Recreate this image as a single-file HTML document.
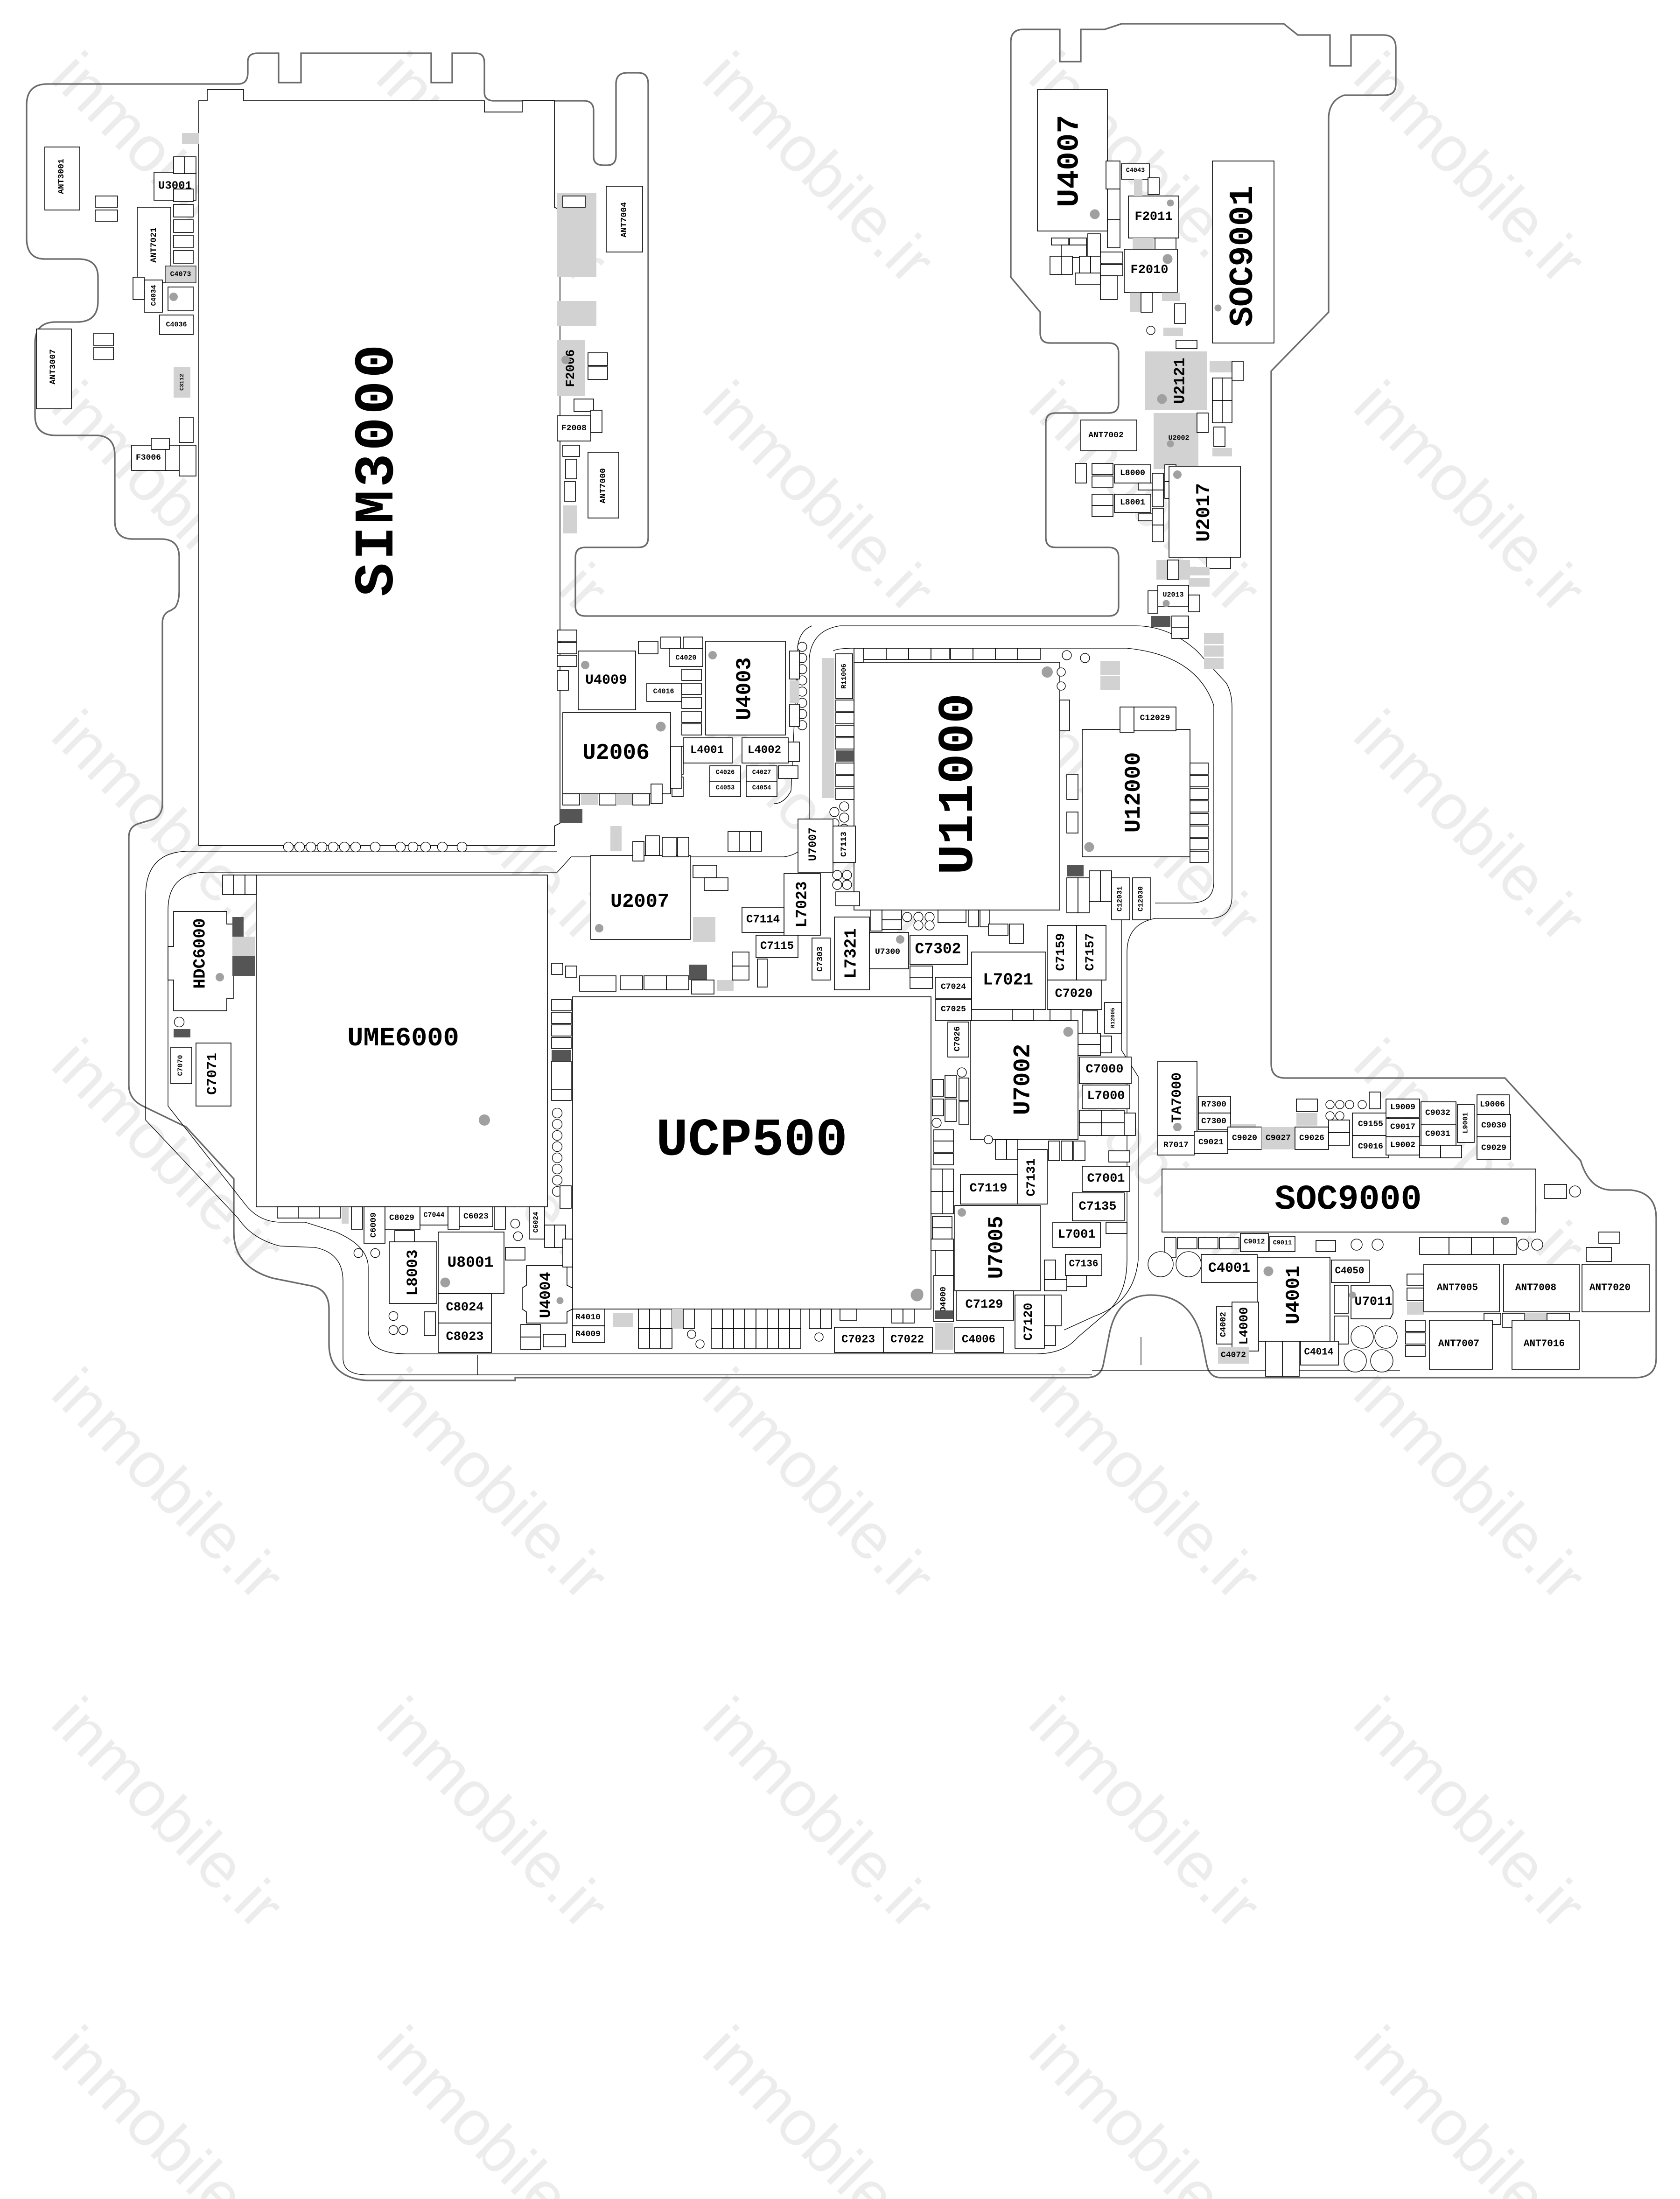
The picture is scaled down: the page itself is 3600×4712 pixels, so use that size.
<!DOCTYPE html>
<html><head><meta charset="utf-8">
<style>
html,body{margin:0;padding:0;background:#fff}
svg{display:block}
.wm{font-family:"Liberation Sans",sans-serif;font-size:46px;fill:#ececec;text-anchor:middle;dominant-baseline:central}
.b{fill:#fff;stroke:#000;stroke-width:0.55}
.g{fill:#d2d2d2;stroke:none}
.gb{fill:#d2d2d2;stroke:#000;stroke-width:0.4}
.d{fill:#555;stroke:none}
.ol{fill:none;stroke:#6a6a6a;stroke-width:1.1}
.tr{fill:none;stroke:#000;stroke-width:0.45}
.p{fill:#a0a0a0}
.c{fill:#fff;stroke:#000;stroke-width:0.45}
text.t{font-family:"Liberation Mono","DejaVu Sans Mono",monospace;font-weight:bold;text-anchor:middle;dominant-baseline:central;fill:#000}
</style></head><body>
<svg width="3600" height="4712" viewBox="0 0 1200 1570.667" xmlns="http://www.w3.org/2000/svg">
<rect x="0" y="0" width="1200" height="1571" fill="#fff"/>
<!-- watermarks -->
<g class="wm">
<text transform="translate(120 120) rotate(45)">inmobile.ir</text>
<text transform="translate(352 120) rotate(45)">inmobile.ir</text>
<text transform="translate(585 120) rotate(45)">inmobile.ir</text>
<text transform="translate(818 120) rotate(45)">inmobile.ir</text>
<text transform="translate(1050 120) rotate(45)">inmobile.ir</text>
<text transform="translate(120 355) rotate(45)">inmobile.ir</text>
<text transform="translate(352 355) rotate(45)">inmobile.ir</text>
<text transform="translate(585 355) rotate(45)">inmobile.ir</text>
<text transform="translate(818 355) rotate(45)">inmobile.ir</text>
<text transform="translate(1050 355) rotate(45)">inmobile.ir</text>
<text transform="translate(120 590) rotate(45)">inmobile.ir</text>
<text transform="translate(352 590) rotate(45)">inmobile.ir</text>
<text transform="translate(585 590) rotate(45)">inmobile.ir</text>
<text transform="translate(818 590) rotate(45)">inmobile.ir</text>
<text transform="translate(1050 590) rotate(45)">inmobile.ir</text>
<text transform="translate(120 825) rotate(45)">inmobile.ir</text>
<text transform="translate(352 825) rotate(45)">inmobile.ir</text>
<text transform="translate(585 825) rotate(45)">inmobile.ir</text>
<text transform="translate(818 825) rotate(45)">inmobile.ir</text>
<text transform="translate(1050 825) rotate(45)">inmobile.ir</text>
<text transform="translate(120 1060) rotate(45)">inmobile.ir</text>
<text transform="translate(352 1060) rotate(45)">inmobile.ir</text>
<text transform="translate(585 1060) rotate(45)">inmobile.ir</text>
<text transform="translate(818 1060) rotate(45)">inmobile.ir</text>
<text transform="translate(1050 1060) rotate(45)">inmobile.ir</text>
<text transform="translate(120 1295) rotate(45)">inmobile.ir</text>
<text transform="translate(352 1295) rotate(45)">inmobile.ir</text>
<text transform="translate(585 1295) rotate(45)">inmobile.ir</text>
<text transform="translate(818 1295) rotate(45)">inmobile.ir</text>
<text transform="translate(1050 1295) rotate(45)">inmobile.ir</text>
<text transform="translate(120 1530) rotate(45)">inmobile.ir</text>
<text transform="translate(352 1530) rotate(45)">inmobile.ir</text>
<text transform="translate(585 1530) rotate(45)">inmobile.ir</text>
<text transform="translate(818 1530) rotate(45)">inmobile.ir</text>
<text transform="translate(1050 1530) rotate(45)">inmobile.ir</text>
</g>

<!-- board outline -->
<path class="ol" d="M19,75 Q19,60 34,60 L170,60 Q177,60 177,52 L177,44 Q177,38 184,38 L199,38 L199,59 L215,59 L215,38 L308,38 L308,59 L323,59 L323,38 L340,38 Q346,38 346,45 L346,66 Q346,72 353,72 L417,72 Q424,72 424,79 L424,112 Q424,118 431,118 L434,118 Q440,118 440,111 L440,60 Q440,52 448,52 L456,52 Q463,52 463,60 L463,384 Q463,391 456,391 L418,391 Q411,391 411,398 L411,433 Q411,440 418,440 L792,440 Q799,440 799,433 L799,398 Q799,391 792,391 L754,391 Q747,391 747,384 L747,302 Q747,295 754,295 L792,295 Q799,295 799,288 L799,252 Q799,245 792,245 L750,245 Q743,245 743,238 L743,223 L722,198 L722,30 Q722,21 731,21 L757,21 L757,44 L772,44 L772,21 L789,21 L801,17 L917,17 L927,25 L950,25 L950,47 L965,47 L965,25 L988,25 Q997,25 997,34 L997,60 Q997,68 989,68 L960,68 Q949,72 949,85 L949,223 L908,265 L908,760 Q908,770 918,770 L1075,770 L1129,829 Q1135,849 1150,850 L1165,850 Q1183,852 1183,870 L1183,970 Q1183,984 1168,984 L872,984 Q864,984 862,975 L858,955 Q850,925 822,925 Q797,925 792,955 L788,975 Q786,984 776,984 L368,984 L368,986 L262,986 Q235,984 235,960 L235,935 Q235,920 220,918 L195,913 Q167,905 167,880 L167,842 L133,805 L102,790 Q92,785 92,775 L92,598 Q92,590 100,588 L110,585 Q116,582 116,574 L116,445 Q116,438 122,436 L125,434 Q128,430 128,422 L128,398 Q128,385 115,385 L95,385 Q82,385 82,372 L82,325 Q82,312 70,311 L40,311 Q25,311 25,297 L25,245 Q25,230 40,230 L55,230 Q70,230 70,215 L70,198 Q70,185 56,185 L32,185 Q19,185 19,170 Z"/>

<!-- inner traces -->
<path class="tr" d="M104,640 Q104,608 135,608 L398,608"/>
<path class="tr" d="M120,650 Q120,623 148,623 L398,623 L408,612 L560,612 Q575,610 578,595 L578,470 Q580,450 600,447 L811,447 Q835,447 855,465 L876,488 Q880,495 880,505 L880,640 Q880,655 865,656 L825,656 Q805,660 805,680 L805,900 Q805,925 790,938 L770,955 Q760,967 740,967 L290,967 Q263,967 263,950 L263,905 Q263,890 240,880 L218,873 L201,873 Q185,873 175,860 L120,790 Z" fill="none"/>
<path class="tr" d="M104,640 L104,800 L170,870 Q180,885 200,890 L225,891 Q245,895 245,915 L245,970 Q245,982 262,982 L780,982"/>
<path class="tr" d="M595,465 Q598,463 610,463 L805,463 Q855,468 867,504 L867,630 Q867,645 850,645 L825,645"/>
<path class="tr" d="M801,650 L801,750 L813,769 L813,900 Q810,930 782,940 L760,950"/>
<path class="tr" d="M553,574 Q560,574 565,565 L570,460 Q572,450 580,447"/>
<path class="tr" d="M341,968 L341,982"/>
<path class="tr" d="M815,955 L815,975 M780,979 L1000,979"/>

<!-- SIM3000 -->
<path class="b" d="M142,72 L142,604 L396,604 L396,590 L400,588 L400,150 L396,148 L396,72 L373,72 L373,80 L346,80 L346,72 L174,72 L174,64 L148,64 L148,72 Z"/>
<text class="t" transform="translate(270 335) rotate(-90)" font-size="40" letter-spacing="2">SIM3000</text>
<g>
<circle class="c" cx="206" cy="605" r="3.5"/><circle class="c" cx="214" cy="605" r="3.5"/><circle class="c" cx="222" cy="605" r="3.5"/><circle class="c" cx="230" cy="605" r="3.5"/><circle class="c" cx="238" cy="605" r="3.5"/><circle class="c" cx="246" cy="605" r="3.5"/><circle class="c" cx="254" cy="605" r="3.5"/><circle class="c" cx="268" cy="605" r="3.5"/><circle class="c" cx="286" cy="605" r="3.5"/><circle class="c" cx="295" cy="605" r="3.5"/><circle class="c" cx="304" cy="605" r="3.5"/><circle class="c" cx="316" cy="605" r="3.5"/><circle class="c" cx="330" cy="605" r="3.5"/>
</g>
<rect class="d" x="400" y="578" width="16" height="10"/>

<!-- UME6000 -->
<rect class="b" x="183" y="625" width="208" height="237"/>
<text class="t" x="288" y="742" font-size="19">UME6000</text>
<circle class="p" cx="346" cy="800" r="4"/>
<!-- UCP500 -->
<rect class="b" x="409" y="712" width="256" height="223"/>
<text class="t" x="537" y="815" font-size="38">UCP500</text>
<circle class="p" cx="655" cy="925" r="4.5"/>
<!-- U11000 -->
<rect class="b" x="610" y="473" width="147" height="177"/>
<text class="t" transform="translate(685 560) rotate(-90)" font-size="36">U11000</text>
<circle class="p" cx="748" cy="480" r="4"/>
<!-- U12000 -->
<rect class="b" x="773" y="521" width="77" height="91"/>
<text class="t" transform="translate(810 566) rotate(-90)" font-size="16">U12000</text>
<circle class="p" cx="778" cy="605" r="3.5"/>
<!-- SOC9001 -->
<rect class="b" x="866" y="115" width="44" height="130"/>
<text class="t" transform="translate(888 183) rotate(-90)" font-size="24">SOC9001</text>
<circle class="p" cx="870" cy="220" r="2.5"/>
<!-- U4007 -->
<rect class="b" x="741" y="64" width="50" height="101"/>
<text class="t" transform="translate(764 115) rotate(-90)" font-size="22">U4007</text>
<circle class="p" cx="782" cy="153" r="3.5"/>
<!-- SOC9000 -->
<rect class="b" x="830" y="835" width="267" height="45"/>
<text class="t" x="963" y="857" font-size="25">SOC9000</text>
<circle class="p" cx="1075" cy="872" r="3"/>

<!-- left region -->
<rect class="b" x="32" y="105" width="25" height="45"/><text class="t" transform="translate(44 126) rotate(-90)" font-size="6">ANT3001</text>
<rect class="b" x="26" y="235" width="25" height="57"/><text class="t" transform="translate(38 262) rotate(-90)" font-size="6">ANT3007</text>
<rect class="b" x="98" y="148" width="24" height="54"/><text class="t" transform="translate(110 175) rotate(-90)" font-size="6">ANT7021</text>
<rect class="b" x="110" y="123" width="30" height="20"/><text class="t" x="125" y="133" font-size="8">U3001</text>
<rect class="b" x="103" y="200" width="13" height="23"/><text class="t" transform="translate(110 211) rotate(-90)" font-size="5">C4034</text>
<rect class="gb" x="118" y="190" width="22" height="12"/><text class="t" x="129" y="196" font-size="5">C4073</text>
<rect class="b" x="114" y="225" width="24" height="14"/><text class="t" x="126" y="232" font-size="5">C4036</text>
<rect class="b" x="120" y="205" width="18" height="17"/><circle class="p" cx="124" cy="212" r="3"/>
<rect class="g" x="124" y="262" width="12" height="22"/><text class="t" transform="translate(130 273) rotate(-90)" font-size="4">C3112</text>
<rect class="b" x="94" y="318" width="25" height="18"/><text class="t" x="106" y="327" font-size="6">F3006</text>
<rect class="b" x="67" y="238" width="14" height="9"/><rect class="b" x="67" y="248" width="14" height="9"/>
<rect class="b" x="68" y="140" width="16" height="8"/><rect class="b" x="68" y="150" width="16" height="8"/>
<rect class="b" x="124" y="135" width="14" height="9"/><rect class="b" x="124" y="146" width="14" height="9"/><rect class="b" x="124" y="157" width="14" height="9"/><rect class="b" x="124" y="168" width="14" height="9"/><rect class="b" x="124" y="179" width="14" height="9"/>
<rect class="b" x="95" y="198" width="8" height="16"/>
<rect class="b" x="128" y="298" width="10" height="18"/><rect class="b" x="118" y="318" width="10" height="18"/><rect class="b" x="128" y="318" width="12" height="22"/><rect class="b" x="108" y="313" width="13" height="8"/>
<rect class="g" x="130" y="95" width="12" height="8"/>
<rect class="b" x="124" y="112" width="8" height="12"/><rect class="b" x="132" y="112" width="8" height="12"/>

<!-- SIM right column -->
<rect class="b" x="433" y="133" width="26" height="47"/><text class="t" transform="translate(446 157) rotate(-90)" font-size="6">ANT7004</text>
<rect class="b" x="420" y="323" width="22" height="47"/><text class="t" transform="translate(431 347) rotate(-90)" font-size="6">ANT7000</text>
<rect class="g" x="398" y="138" width="28" height="60"/>
<rect class="b" x="402" y="140" width="16" height="8"/>
<rect class="g" x="398" y="215" width="28" height="18"/>
<rect class="g" x="398" y="243" width="20" height="40"/><text class="t" transform="translate(408 263) rotate(-90)" font-size="9">F2006</text>
<circle class="p" cx="404" cy="257" r="3"/>
<rect class="b" x="420" y="252" width="14" height="9"/><rect class="b" x="420" y="262" width="14" height="9"/>
<rect class="b" x="410" y="285" width="14" height="9"/>
<rect class="b" x="398" y="297" width="24" height="18"/><text class="t" x="410" y="306" font-size="6">F2008</text>
<rect class="b" x="422" y="293" width="8" height="16"/>
<rect class="b" x="402" y="318" width="12" height="8"/><rect class="b" x="404" y="328" width="8" height="14"/>
<rect class="b" x="403" y="344" width="8" height="14"/><rect class="g" x="402" y="361" width="10" height="20"/>

<!-- U4009 / U2006 area -->
<rect class="b" x="413" y="465" width="41" height="42"/><text class="t" x="433" y="486" font-size="10">U4009</text>
<circle class="p" cx="418" cy="475" r="3"/>
<rect class="b" x="402" y="509" width="77" height="58"/><text class="t" x="440" y="538" font-size="16">U2006</text>
<circle class="p" cx="472" cy="519" r="3.5"/>
<rect class="b" x="504" y="458" width="57" height="67"/><text class="t" transform="translate(532 492) rotate(-90)" font-size="15">U4003</text>
<circle class="p" cx="509" cy="468" r="3"/>
<rect class="b" x="478" y="463" width="24" height="13"/><text class="t" x="490" y="470" font-size="5">C4020</text>
<rect class="b" x="462" y="488" width="25" height="13"/><text class="t" x="474" y="494" font-size="5">C4016</text>
<rect class="b" x="456" y="458" width="14" height="9"/><rect class="b" x="472" y="455" width="14" height="8"/><rect class="b" x="488" y="455" width="14" height="8"/>
<rect class="b" x="487" y="478" width="14" height="8"/><rect class="b" x="487" y="488" width="14" height="8"/><rect class="b" x="487" y="498" width="14" height="8"/><rect class="b" x="487" y="508" width="14" height="8"/><rect class="b" x="487" y="517" width="14" height="8"/>
<rect class="b" x="488" y="527" width="35" height="18"/><text class="t" x="505" y="536" font-size="8">L4001</text>
<rect class="b" x="530" y="527" width="33" height="18"/><text class="t" x="546" y="536" font-size="8">L4002</text>
<rect class="b" x="507" y="547" width="22" height="11"/><text class="t" x="518" y="552" font-size="4.5">C4026</text>
<rect class="b" x="507" y="558" width="22" height="11"/><text class="t" x="518" y="563" font-size="4.5">C4053</text>
<rect class="b" x="533" y="547" width="22" height="11"/><text class="t" x="544" y="552" font-size="4.5">C4027</text>
<rect class="b" x="533" y="558" width="22" height="11"/><text class="t" x="544" y="563" font-size="4.5">C4054</text>
<rect class="b" x="480" y="533" width="8" height="20"/><rect class="b" x="480" y="555" width="8" height="14"/><rect class="b" x="556" y="547" width="14" height="9"/><rect class="b" x="563" y="530" width="8" height="14"/>
<rect class="b" x="398" y="450" width="14" height="8"/><rect class="b" x="398" y="459" width="14" height="8"/><rect class="b" x="398" y="468" width="14" height="8"/><rect class="b" x="398" y="479" width="8" height="14"/>
<rect class="b" x="402" y="567" width="12" height="8"/><rect class="g" x="415" y="567" width="12" height="8"/><rect class="b" x="428" y="567" width="12" height="8"/><rect class="g" x="440" y="567" width="12" height="8"/><rect class="b" x="452" y="567" width="12" height="8"/><rect class="b" x="465" y="560" width="8" height="14"/>
<rect class="b" x="479" y="533" width="8" height="30"/>
<g><circle class="c" cx="573" cy="462" r="3.3"/><circle class="c" cx="573" cy="470" r="3.3"/><circle class="c" cx="573" cy="478" r="3.3"/><circle class="c" cx="573" cy="486" r="3.3"/><circle class="c" cx="573" cy="494" r="3.3"/><circle class="c" cx="573" cy="502" r="3.3"/><circle class="c" cx="573" cy="510" r="3.3"/><circle class="c" cx="573" cy="518" r="3.3"/></g>
<rect class="b" x="564" y="465" width="7" height="20"/><rect class="g" x="564" y="486" width="7" height="16"/><rect class="b" x="564" y="503" width="7" height="16"/>
<rect class="g" x="587" y="470" width="9" height="100"/>
<rect class="b" x="597" y="467" width="12" height="32"/><text class="t" transform="translate(603 483) rotate(-90)" font-size="5">R11006</text>
<rect class="b" x="597" y="500" width="13" height="8"/><rect class="b" x="597" y="509" width="13" height="8"/><rect class="b" x="597" y="518" width="13" height="8"/><rect class="b" x="597" y="527" width="13" height="8"/><rect class="d" x="597" y="536" width="13" height="8"/><rect class="b" x="597" y="545" width="13" height="8"/><rect class="b" x="597" y="554" width="13" height="8"/><rect class="b" x="597" y="563" width="13" height="8"/>
<g><circle class="c" cx="603" cy="576" r="3.3"/><circle class="c" cx="603" cy="584" r="3.3"/><circle class="c" cx="603" cy="592" r="3.3"/><circle class="c" cx="603" cy="600" r="3.3"/><circle class="c" cx="596" cy="580" r="3.3"/><circle class="c" cx="596" cy="588" r="3.3"/></g>
<rect class="b" x="610" y="463" width="7" height="10"/>
<rect class="b" x="617" y="463" width="16" height="8"/><rect class="b" x="633" y="463" width="16" height="8"/><rect class="b" x="649" y="463" width="16" height="8"/><rect class="b" x="665" y="463" width="13" height="8"/><rect class="b" x="679" y="463" width="16" height="8"/><rect class="b" x="695" y="463" width="16" height="8"/><rect class="b" x="711" y="463" width="16" height="8"/><rect class="b" x="727" y="463" width="16" height="8"/>
<circle class="c" cx="762" cy="468" r="3.3"/><circle class="c" cx="775" cy="470" r="3.3"/><circle class="c" cx="758" cy="480" r="3"/><circle class="c" cx="758" cy="490" r="3"/>
<rect class="g" x="786" y="472" width="14" height="10"/><rect class="g" x="786" y="483" width="14" height="10"/>
<rect class="b" x="757" y="500" width="7" height="22"/>
<rect class="b" x="800" y="505" width="10" height="18"/><rect class="b" x="810" y="505" width="30" height="17"/><text class="t" x="825" y="513" font-size="6">C12029</text>
<rect class="b" x="850" y="545" width="13" height="8"/><rect class="b" x="850" y="554" width="13" height="8"/><rect class="b" x="850" y="563" width="13" height="8"/><rect class="b" x="850" y="572" width="13" height="8"/><rect class="b" x="850" y="581" width="13" height="8"/><rect class="b" x="850" y="590" width="13" height="8"/><rect class="b" x="850" y="599" width="13" height="8"/><rect class="b" x="850" y="608" width="13" height="8"/>
<rect class="b" x="762" y="553" width="8" height="18"/><rect class="b" x="762" y="580" width="8" height="15"/>
<rect class="d" x="762" y="618" width="12" height="8"/>
<rect class="b" x="762" y="627" width="8" height="25"/><rect class="b" x="770" y="627" width="8" height="25"/><rect class="b" x="778" y="622" width="8" height="22"/><rect class="b" x="786" y="622" width="8" height="22"/><rect class="b" x="794" y="627" width="13" height="30"/><rect class="b" x="809" y="627" width="13" height="30"/><text class="t" transform="translate(800 642) rotate(-90)" font-size="5">C12031</text><text class="t" transform="translate(815 642) rotate(-90)" font-size="5">C12030</text>

<!-- U2007 area -->
<rect class="b" x="422" y="611" width="71" height="60"/><text class="t" x="457" y="644" font-size="14">U2007</text>
<circle class="p" cx="428" cy="663" r="3"/>
<rect class="b" x="452" y="601" width="8" height="14"/><rect class="b" x="461" y="597" width="10" height="14"/><rect class="b" x="473" y="598" width="10" height="14"/><rect class="b" x="484" y="598" width="8" height="14"/>
<rect class="g" x="436" y="590" width="8" height="18"/>
<rect class="b" x="495" y="618" width="17" height="9"/><rect class="b" x="503" y="627" width="17" height="9"/>
<rect class="g" x="495" y="655" width="16" height="9"/><rect class="g" x="495" y="664" width="16" height="9"/>
<rect class="b" x="520" y="594" width="8" height="14"/><rect class="b" x="528" y="594" width="8" height="14"/><rect class="b" x="536" y="594" width="8" height="14"/>
<rect class="b" x="570" y="585" width="25" height="38"/><text class="t" transform="translate(581 603) rotate(-90)" font-size="8">U7007</text>
<rect class="b" x="595" y="590" width="16" height="26"/><text class="t" transform="translate(603 603) rotate(-90)" font-size="6">C7113</text>
<rect class="b" x="560" y="624" width="26" height="44"/><text class="t" transform="translate(573 646) rotate(-90)" font-size="11">L7023</text>
<rect class="b" x="530" y="648" width="30" height="18"/><text class="t" x="545" y="657" font-size="8">C7114</text>
<rect class="b" x="540" y="668" width="30" height="16"/><text class="t" x="555" y="676" font-size="8">C7115</text>
<rect class="b" x="580" y="670" width="13" height="30"/><text class="t" transform="translate(586 685) rotate(-90)" font-size="6">C7303</text>
<rect class="b" x="596" y="655" width="25" height="52"/><text class="t" transform="translate(608 681) rotate(-90)" font-size="12">L7321</text>
<rect class="b" x="621" y="666" width="28" height="26"/><text class="t" x="634" y="680" font-size="6">U7300</text>
<circle class="p" cx="643" cy="671" r="3"/>
<rect class="b" x="650" y="668" width="41" height="21"/><text class="t" x="670" y="678" font-size="11">C7302</text>
<g><circle class="c" cx="598" cy="625" r="3.3"/><circle class="c" cx="605" cy="625" r="3.3"/><circle class="c" cx="598" cy="632" r="3.3"/><circle class="c" cx="605" cy="632" r="3.3"/></g>
<rect class="b" x="597" y="637" width="17" height="10"/>
<rect class="b" x="622" y="650" width="8" height="15"/><rect class="b" x="630" y="650" width="14" height="7"/><rect class="b" x="630" y="657" width="14" height="7"/>
<g><circle class="c" cx="648" cy="655" r="3.3"/><circle class="c" cx="656" cy="655" r="3.3"/><circle class="c" cx="664" cy="655" r="3.3"/><circle class="c" cx="656" cy="661" r="3.3"/><circle class="c" cx="664" cy="661" r="3.3"/></g>
<rect class="b" x="670" y="650" width="20" height="9"/><rect class="b" x="692" y="650" width="7" height="12"/><rect class="b" x="700" y="650" width="7" height="12"/>
<rect class="b" x="706" y="660" width="14" height="8"/><rect class="b" x="721" y="660" width="10" height="14"/>
<rect class="b" x="650" y="690" width="16" height="8"/><rect class="b" x="650" y="698" width="16" height="8"/>
<rect class="b" x="394" y="688" width="8" height="8"/><rect class="b" x="404" y="690" width="8" height="8"/>
<rect class="b" x="414" y="697" width="26" height="11"/><rect class="b" x="443" y="697" width="16" height="10"/><rect class="b" x="460" y="697" width="16" height="10"/><rect class="b" x="476" y="697" width="16" height="10"/><rect class="d" x="492" y="689" width="13" height="11"/><rect class="b" x="494" y="700" width="16" height="10"/><rect class="g" x="512" y="700" width="12" height="8"/>
<rect class="b" x="523" y="690" width="12" height="10"/><rect class="b" x="523" y="680" width="12" height="10"/><rect class="b" x="541" y="685" width="7" height="20"/>

<!-- UCP500 left column / HDC -->
<rect class="b" x="394" y="714" width="14" height="8"/><rect class="b" x="394" y="723" width="14" height="8"/><rect class="b" x="394" y="732" width="14" height="8"/><rect class="b" x="394" y="741" width="14" height="8"/><rect class="d" x="394" y="750" width="14" height="8"/><rect class="b" x="394" y="758" width="14" height="20"/><rect class="b" x="394" y="778" width="14" height="8"/>
<g><circle class="c" cx="398" cy="795" r="3.5"/><circle class="c" cx="398" cy="803" r="3.5"/><circle class="c" cx="398" cy="811" r="3.5"/><circle class="c" cx="398" cy="819" r="3.5"/><circle class="c" cx="398" cy="827" r="3.5"/><circle class="c" cx="398" cy="835" r="3.5"/><circle class="c" cx="398" cy="843" r="3.5"/><circle class="c" cx="398" cy="851" r="3.5"/></g>
<path class="b" d="M124,651 L124,676 L120,676 L120,700 L124,700 L124,722 L162,722 L162,713 L167,713 L167,660 L162,660 L162,651 Z"/>
<text class="t" transform="translate(143 681) rotate(-90)" font-size="12">HDC6000</text>
<circle class="p" cx="157" cy="698" r="3"/>
<rect class="b" x="159" y="625" width="8" height="14"/><rect class="b" x="167" y="625" width="8" height="14"/><rect class="b" x="175" y="625" width="8" height="14"/>
<rect class="d" x="166" y="655" width="8" height="14"/><rect class="g" x="166" y="669" width="8" height="14"/><rect class="g" x="174" y="669" width="8" height="14"/><rect class="d" x="166" y="683" width="8" height="14"/><rect class="d" x="174" y="683" width="8" height="14"/>
<circle class="c" cx="128" cy="730" r="3.5"/>
<rect class="d" x="124" y="735" width="12" height="6"/>
<rect class="b" x="122" y="748" width="15" height="26"/><text class="t" transform="translate(129 761) rotate(-90)" font-size="5">C7070</text>
<rect class="b" x="140" y="745" width="25" height="45"/><text class="t" transform="translate(152 767) rotate(-90)" font-size="10">C7071</text>

<!-- bottom left -->
<rect class="b" x="198" y="862" width="15" height="8"/><rect class="b" x="213" y="862" width="15" height="8"/><rect class="b" x="228" y="862" width="15" height="8"/><rect class="g" x="244" y="862" width="5" height="12"/><rect class="b" x="251" y="862" width="8" height="16"/>
<rect class="b" x="260" y="862" width="15" height="26"/><text class="t" transform="translate(267 875) rotate(-90)" font-size="6">C6009</text>
<rect class="b" x="275" y="862" width="25" height="16"/><text class="t" x="287" y="870" font-size="6">C8029</text>
<rect class="b" x="300" y="862" width="20" height="13"/><text class="t" x="310" y="868" font-size="5">C7044</text>
<rect class="b" x="320" y="862" width="8" height="16"/>
<rect class="b" x="328" y="862" width="24" height="14"/><text class="t" x="340" y="869" font-size="6">C6023</text>
<rect class="b" x="353" y="862" width="8" height="16"/>
<rect class="b" x="378" y="862" width="11" height="23"/><text class="t" transform="translate(383 873) rotate(-90)" font-size="5">C6024</text>
<rect class="b" x="282" y="879" width="14" height="9"/>
<circle class="c" cx="256" cy="895" r="3.2"/><circle class="c" cx="268" cy="895" r="3.2"/><circle class="c" cx="281" cy="940" r="3.2"/><circle class="c" cx="281" cy="950" r="3.2"/><circle class="c" cx="288" cy="950" r="3.2"/>
<circle class="c" cx="368" cy="874" r="3.2"/><circle class="c" cx="370" cy="883" r="3.2"/>
<rect class="b" x="278" y="887" width="34" height="44"/><text class="t" transform="translate(295 909) rotate(-90)" font-size="11">L8003</text>
<rect class="b" x="313" y="880" width="47" height="44"/><text class="t" x="336" y="902" font-size="11">U8001</text>
<circle class="p" cx="318" cy="916" r="3.5"/>
<rect class="b" x="361" y="891" width="14" height="9"/>
<rect class="b" x="303" y="937" width="8" height="17"/>
<rect class="b" x="313" y="924" width="38" height="21"/><text class="t" x="332" y="934" font-size="9">C8024</text>
<rect class="b" x="313" y="945" width="38" height="21"/><text class="t" x="332" y="955" font-size="9">C8023</text>
<path class="b" d="M376,904 L405,904 L405,918 L409,920 L409,935 L405,937 L405,945 L376,945 L376,937 L373,935 L373,920 L376,918 Z"/>
<text class="t" transform="translate(390 925) rotate(-90)" font-size="11">U4004</text>
<circle class="p" cx="400" cy="929" r="2.5"/>
<rect class="b" x="372" y="946" width="14" height="9"/><rect class="b" x="372" y="955" width="14" height="9"/><rect class="b" x="388" y="953" width="16" height="9"/>
<rect class="b" x="389" y="875" width="8" height="16"/><rect class="b" x="396" y="875" width="8" height="16"/><rect class="b" x="402" y="885" width="7" height="20"/><rect class="b" x="400" y="847" width="8" height="16"/>
<rect class="b" x="409" y="935" width="23" height="12"/><text class="t" x="420" y="941" font-size="6">R4010</text>
<rect class="b" x="409" y="947" width="23" height="12"/><text class="t" x="420" y="953" font-size="6">R4009</text>
<rect class="g" x="438" y="938" width="14" height="10"/>
<g>
<rect class="b" x="456" y="935" width="8" height="14"/><rect class="b" x="464" y="935" width="8" height="14"/><rect class="b" x="472" y="935" width="8" height="14"/><rect class="g" x="480" y="935" width="8" height="14"/><rect class="b" x="488" y="935" width="8" height="14"/>
<rect class="b" x="456" y="949" width="8" height="14"/><rect class="b" x="464" y="949" width="8" height="14"/><rect class="b" x="472" y="949" width="8" height="14"/>
<rect class="b" x="508" y="935" width="8" height="14"/><rect class="b" x="516" y="935" width="8" height="14"/><rect class="b" x="524" y="935" width="8" height="14"/><rect class="b" x="532" y="935" width="8" height="14"/><rect class="b" x="540" y="935" width="8" height="14"/><rect class="b" x="548" y="935" width="8" height="14"/><rect class="b" x="556" y="935" width="8" height="14"/><rect class="b" x="564" y="935" width="8" height="14"/><rect class="b" x="578" y="935" width="8" height="14"/><rect class="b" x="586" y="935" width="8" height="14"/>
<rect class="b" x="508" y="949" width="8" height="14"/><rect class="b" x="516" y="949" width="8" height="14"/><rect class="b" x="524" y="949" width="8" height="14"/><rect class="b" x="532" y="949" width="8" height="14"/><rect class="b" x="540" y="949" width="8" height="14"/><rect class="b" x="548" y="949" width="8" height="14"/><rect class="b" x="556" y="949" width="8" height="14"/><rect class="b" x="564" y="949" width="8" height="14"/>
<circle class="c" cx="494" cy="953" r="3"/><circle class="c" cx="500" cy="960" r="3"/><circle class="c" cx="585" cy="955" r="3"/>
<rect class="b" x="600" y="935" width="12" height="8"/><rect class="b" x="637" y="935" width="8" height="10"/><rect class="b" x="645" y="935" width="8" height="10"/>
</g>
<rect class="b" x="596" y="948" width="35" height="18"/><text class="t" x="613" y="957" font-size="8">C7023</text>
<rect class="b" x="631" y="948" width="35" height="18"/><text class="t" x="648" y="957" font-size="8">C7022</text>

<!-- U7002 area -->
<rect class="b" x="668" y="698" width="26" height="15"/><text class="t" x="681" y="705" font-size="6">C7024</text>
<rect class="b" x="668" y="714" width="26" height="15"/><text class="t" x="681" y="721" font-size="6">C7025</text>
<rect class="b" x="677" y="730" width="15" height="25"/><text class="t" transform="translate(684 742) rotate(-90)" font-size="6">C7026</text>
<rect class="b" x="694" y="680" width="53" height="41"/><text class="t" x="720" y="700" font-size="12">L7021</text>
<rect class="b" x="748" y="661" width="21" height="39"/><text class="t" transform="translate(758 680) rotate(-90)" font-size="9">C7159</text>
<rect class="b" x="769" y="661" width="21" height="39"/><text class="t" transform="translate(779 680) rotate(-90)" font-size="9">C7157</text>
<rect class="b" x="748" y="700" width="39" height="21"/><text class="t" x="767" y="710" font-size="9">C7020</text>
<rect class="b" x="723" y="721" width="15" height="8"/><rect class="b" x="750" y="721" width="15" height="8"/>
<rect class="b" x="773" y="722" width="11" height="18"/><rect class="b" x="789" y="716" width="12" height="22"/><text class="t" transform="translate(795 727) rotate(-90)" font-size="4">R12005</text>
<rect class="b" x="770" y="738" width="16" height="8"/><rect class="b" x="770" y="746" width="16" height="8"/><rect class="b" x="786" y="740" width="8" height="12"/>
<rect class="b" x="693" y="729" width="77" height="85"/><text class="t" transform="translate(731 771) rotate(-90)" font-size="17">U7002</text>
<circle class="p" cx="763" cy="737" r="3.5"/>
<rect class="b" x="771" y="755" width="37" height="19"/><text class="t" x="789" y="764" font-size="9">C7000</text>
<rect class="b" x="773" y="775" width="34" height="17"/><text class="t" x="790" y="783" font-size="9">L7000</text>
<rect class="b" x="771" y="793" width="16" height="9"/><rect class="b" x="787" y="793" width="16" height="9"/><rect class="b" x="771" y="802" width="16" height="9"/><rect class="b" x="787" y="802" width="16" height="9"/><rect class="b" x="803" y="795" width="8" height="16"/>
<rect class="b" x="792" y="822" width="15" height="8"/>
<rect class="b" x="666" y="771" width="8" height="12"/><rect class="b" x="675" y="768" width="8" height="16"/><rect class="b" x="666" y="785" width="8" height="12"/><rect class="b" x="675" y="785" width="8" height="16"/><rect class="b" x="685" y="770" width="7" height="16"/><rect class="b" x="685" y="787" width="7" height="16"/><circle class="c" cx="687" cy="766" r="3.3"/><circle class="c" cx="669" cy="802" r="3.3"/>
<rect class="b" x="667" y="807" width="14" height="8"/><rect class="b" x="667" y="815" width="14" height="8"/><rect class="b" x="667" y="824" width="14" height="8"/>
<rect class="b" x="665" y="835" width="8" height="16"/><rect class="b" x="673" y="835" width="8" height="16"/><rect class="b" x="665" y="851" width="8" height="16"/><rect class="b" x="673" y="851" width="8" height="16"/>
<rect class="b" x="666" y="869" width="14" height="8"/><rect class="b" x="666" y="877" width="14" height="8"/><rect class="b" x="665" y="885" width="16" height="8"/>
<rect class="b" x="668" y="893" width="13" height="18"/>
<rect class="b" x="667" y="911" width="14" height="33"/><text class="t" transform="translate(674 928) rotate(-90)" font-size="6">D4000</text><rect class="d" x="668" y="936" width="13" height="6"/>
<rect class="g" x="668" y="945" width="13" height="19"/>
<circle class="p" cx="656" cy="924" r="3.5"/>
<circle class="c" cx="706" cy="814" r="3"/>
<rect class="b" x="711" y="814" width="8" height="14"/><rect class="b" x="719" y="814" width="8" height="14"/>
<rect class="b" x="749" y="815" width="8" height="14"/><rect class="b" x="758" y="815" width="8" height="14"/><rect class="b" x="767" y="815" width="8" height="14"/>
<rect class="b" x="686" y="839" width="41" height="21"/><text class="t" x="706" y="849" font-size="9">C7119</text>
<rect class="b" x="727" y="821" width="21" height="39"/><text class="t" transform="translate(737 841) rotate(-90)" font-size="9">C7131</text>
<rect class="b" x="773" y="833" width="34" height="18"/><text class="t" x="790" y="842" font-size="9">C7001</text>
<rect class="b" x="766" y="852" width="37" height="20"/><text class="t" x="784" y="862" font-size="9">C7135</text>
<rect class="b" x="752" y="873" width="34" height="18"/><text class="t" x="769" y="882" font-size="9">L7001</text>
<rect class="b" x="790" y="873" width="15" height="8"/>
<rect class="b" x="761" y="896" width="26" height="15"/><text class="t" x="774" y="903" font-size="7">C7136</text>
<rect class="b" x="762" y="911" width="14" height="8"/><rect class="b" x="746" y="900" width="8" height="14"/><rect class="b" x="746" y="914" width="16" height="8"/>
<rect class="b" x="682" y="861" width="61" height="61"/><text class="t" transform="translate(712 891) rotate(-90)" font-size="15">U7005</text>
<circle class="p" cx="687" cy="866" r="3"/>
<rect class="b" x="683" y="922" width="41" height="21"/><text class="t" x="703" y="932" font-size="9">C7129</text>
<rect class="b" x="725" y="925" width="21" height="38"/><text class="t" transform="translate(735 944) rotate(-90)" font-size="9">C7120</text>
<rect class="b" x="746" y="925" width="12" height="22"/><rect class="b" x="746" y="947" width="8" height="14"/>
<rect class="b" x="682" y="948" width="35" height="18"/><text class="t" x="699" y="957" font-size="8">C4006</text>

<!-- right board -->
<rect class="b" x="790" y="115" width="10" height="20"/><rect class="b" x="801" y="117" width="20" height="11"/><text class="t" x="811" y="122" font-size="4.5">C4043</text>
<rect class="b" x="791" y="135" width="9" height="22"/><rect class="b" x="791" y="157" width="9" height="20"/>
<rect class="b" x="806" y="140" width="36" height="30"/><text class="t" x="824" y="155" font-size="9">F2011</text>
<circle class="p" cx="836" cy="145" r="2.5"/>
<rect class="g" x="810" y="128" width="6" height="12"/><rect class="b" x="820" y="127" width="8" height="12"/>
<rect class="g" x="809" y="170" width="15" height="8"/><rect class="b" x="825" y="170" width="15" height="8"/>
<rect class="b" x="803" y="178" width="38" height="31"/><text class="t" x="821" y="193" font-size="9">F2010</text>
<circle class="p" cx="834" cy="185" r="3.5"/>
<rect class="b" x="751" y="170" width="12" height="5"/><rect class="b" x="764" y="170" width="12" height="5"/>
<rect class="b" x="758" y="175" width="18" height="9"/><rect class="b" x="777" y="167" width="9" height="16"/>
<rect class="b" x="750" y="183" width="8" height="13"/><rect class="b" x="758" y="183" width="8" height="13"/><rect class="b" x="771" y="183" width="8" height="13"/><rect class="b" x="779" y="183" width="8" height="13"/><rect class="b" x="768" y="195" width="18" height="8"/>
<rect class="b" x="786" y="180" width="16" height="8"/><rect class="b" x="786" y="189" width="16" height="8"/><rect class="b" x="786" y="197" width="12" height="17"/>
<rect class="g" x="807" y="209" width="8" height="14"/><rect class="b" x="815" y="209" width="8" height="14"/><rect class="g" x="830" y="209" width="13" height="6"/><rect class="b" x="839" y="217" width="8" height="14"/>
<circle class="c" cx="822" cy="236" r="3"/><rect class="g" x="831" y="234" width="14" height="6"/><rect class="b" x="840" y="243" width="15" height="6"/>
<rect class="g" x="818" y="251" width="44" height="42"/><text class="t" transform="translate(843 272) rotate(-90)" font-size="11">U2121</text>
<circle class="p" cx="830" cy="285" r="3.5"/>
<rect class="g" x="864" y="258" width="16" height="8"/><rect class="b" x="880" y="258" width="8" height="14"/>
<rect class="b" x="866" y="270" width="7" height="16"/><rect class="b" x="873" y="270" width="7" height="16"/><rect class="b" x="866" y="286" width="7" height="16"/><rect class="b" x="873" y="286" width="7" height="16"/>
<rect class="g" x="824" y="295" width="32" height="40"/>
<text class="t" x="842" y="313" font-size="5">U2002</text><circle class="p" cx="836" cy="317" r="2.5"/>
<rect class="b" x="855" y="295" width="8" height="14"/><rect class="b" x="867" y="305" width="8" height="14"/><rect class="g" x="866" y="320" width="14" height="6"/>
<rect class="b" x="772" y="300" width="40" height="22"/><text class="t" x="790" y="311" font-size="6">ANT7002</text>
<rect class="b" x="768" y="331" width="8" height="14"/>
<rect class="b" x="780" y="331" width="15" height="8"/><rect class="b" x="780" y="340" width="15" height="8"/><rect class="b" x="780" y="353" width="15" height="8"/><rect class="b" x="780" y="361" width="15" height="8"/>
<rect class="b" x="796" y="332" width="26" height="13"/><text class="t" x="809" y="338" font-size="6">L8000</text>
<rect class="b" x="796" y="353" width="26" height="13"/><text class="t" x="809" y="359" font-size="6">L8001</text>
<rect class="b" x="813" y="345" width="12" height="5"/><rect class="b" x="813" y="367" width="12" height="5"/>
<rect class="b" x="823" y="338" width="8" height="12"/><rect class="b" x="823" y="350" width="8" height="12"/><rect class="b" x="823" y="363" width="8" height="12"/><rect class="b" x="823" y="375" width="8" height="12"/>
<rect class="b" x="832" y="332" width="8" height="12"/><rect class="b" x="832" y="344" width="8" height="12"/>
<rect class="b" x="835" y="333" width="51" height="65"/><text class="t" transform="translate(860 366) rotate(-90)" font-size="14">U2017</text>
<circle class="p" cx="841" cy="339" r="3"/>
<rect class="b" x="862" y="398" width="17" height="8"/>
<rect class="g" x="826" y="400" width="8" height="14"/><rect class="b" x="834" y="400" width="8" height="14"/><rect class="g" x="842" y="400" width="8" height="14"/><rect class="g" x="849" y="405" width="15" height="6"/><rect class="g" x="849" y="413" width="15" height="6"/>
<rect class="b" x="827" y="418" width="22" height="15"/><text class="t" x="838" y="425" font-size="5">U2013</text><circle class="p" cx="833" cy="431" r="2.5"/>
<rect class="b" x="820" y="422" width="7" height="16"/><rect class="b" x="849" y="425" width="8" height="12"/><rect class="d" x="822" y="440" width="14" height="8"/><rect class="b" x="837" y="440" width="12" height="8"/><rect class="b" x="837" y="448" width="12" height="8"/>
<rect class="g" x="860" y="452" width="14" height="8"/><rect class="g" x="860" y="461" width="14" height="8"/><rect class="g" x="860" y="470" width="14" height="8"/>

<!-- TA7000 and SOC9000 top row -->
<rect class="b" x="827" y="758" width="28" height="53"/><text class="t" transform="translate(841 784) rotate(-90)" font-size="10">TA7000</text>
<circle class="p" cx="841" cy="805" r="3"/>
<rect class="b" x="856" y="783" width="23" height="12"/><text class="t" x="867" y="789" font-size="6">R7300</text>
<rect class="b" x="856" y="795" width="23" height="12"/><text class="t" x="867" y="801" font-size="6">C7300</text>
<rect class="g" x="879" y="803" width="18" height="8"/>
<rect class="b" x="827" y="811" width="26" height="14"/><text class="t" x="840" y="818" font-size="6">R7017</text>
<rect class="b" x="853" y="808" width="24" height="16"/><text class="t" x="865" y="816" font-size="6">C9021</text>
<rect class="b" x="877" y="805" width="24" height="16"/><text class="t" x="889" y="813" font-size="6">C9020</text>
<rect class="g" x="901" y="805" width="24" height="16"/><text class="t" x="913" y="813" font-size="6">C9027</text>
<rect class="b" x="925" y="805" width="24" height="16"/><text class="t" x="937" y="813" font-size="6">C9026</text>
<rect class="b" x="926" y="785" width="15" height="9"/><rect class="g" x="926" y="795" width="15" height="9"/>
<rect class="b" x="949" y="800" width="15" height="9"/><rect class="b" x="949" y="809" width="15" height="9"/>
<circle class="c" cx="950" cy="789" r="3"/><circle class="c" cx="957" cy="789" r="3"/><circle class="c" cx="964" cy="789" r="3"/><circle class="c" cx="950" cy="797" r="3"/><circle class="c" cx="957" cy="797" r="3"/><circle class="c" cx="973" cy="789" r="3"/>
<rect class="b" x="966" y="795" width="26" height="16"/><text class="t" x="979" y="803" font-size="6">C9155</text>
<rect class="b" x="966" y="811" width="26" height="16"/><text class="t" x="979" y="819" font-size="6">C9016</text>
<rect class="b" x="978" y="780" width="8" height="12"/>
<rect class="b" x="990" y="785" width="24" height="13"/><text class="t" x="1002" y="791" font-size="6">L9009</text>
<rect class="b" x="990" y="799" width="24" height="13"/><text class="t" x="1002" y="805" font-size="6">C9017</text>
<rect class="b" x="990" y="812" width="24" height="13"/><text class="t" x="1002" y="818" font-size="6">L9002</text>
<rect class="b" x="1015" y="787" width="25" height="16"/><text class="t" x="1027" y="795" font-size="6">C9032</text>
<rect class="b" x="1015" y="803" width="25" height="15"/><text class="t" x="1027" y="810" font-size="6">C9031</text>
<rect class="b" x="1014" y="818" width="15" height="9"/><rect class="b" x="1029" y="818" width="15" height="9"/>
<rect class="b" x="1041" y="789" width="12" height="27"/><text class="t" transform="translate(1047 802) rotate(-90)" font-size="5">L9001</text>
<rect class="b" x="1055" y="782" width="23" height="14"/><text class="t" x="1066" y="789" font-size="6">L9006</text>
<rect class="b" x="1055" y="796" width="24" height="16"/><text class="t" x="1067" y="804" font-size="6">C9030</text>
<rect class="b" x="1055" y="812" width="24" height="16"/><text class="t" x="1067" y="820" font-size="6">C9029</text>
<rect class="b" x="1103" y="846" width="16" height="10"/><circle class="c" cx="1125" cy="851" r="4"/>

<!-- below SOC9000 -->
<rect class="b" x="832" y="884" width="8" height="14"/><rect class="b" x="841" y="884" width="14" height="8"/><rect class="b" x="856" y="884" width="14" height="8"/><rect class="b" x="871" y="884" width="14" height="8"/>
<rect class="b" x="886" y="881" width="20" height="13"/><text class="t" x="896" y="887" font-size="5">C9012</text><rect class="b" x="907" y="883" width="18" height="11"/><text class="t" x="916" y="888" font-size="4.5">C9011</text>
<rect class="b" x="940" y="886" width="14" height="8"/><circle class="c" cx="969" cy="889" r="4"/><circle class="c" cx="984" cy="889" r="4"/>
<rect class="b" x="1014" y="884" width="21" height="12"/><rect class="b" x="1035" y="884" width="16" height="12"/><rect class="b" x="1051" y="884" width="16" height="12"/><rect class="b" x="1067" y="884" width="16" height="12"/><circle class="c" cx="1088" cy="889" r="4"/><circle class="c" cx="1098" cy="889" r="4"/>
<rect class="b" x="1133" y="891" width="18" height="10"/>
<circle class="c" cx="829" cy="903" r="9"/><circle class="c" cx="849" cy="903" r="9"/>
<rect class="b" x="858" y="896" width="40" height="20"/><text class="t" x="878" y="906" font-size="10">C4001</text>
<rect class="b" x="898" y="898" width="52" height="60"/><text class="t" transform="translate(924 925) rotate(-90)" font-size="14">U4001</text>
<circle class="p" cx="906" cy="908" r="3.5"/>
<rect class="b" x="951" y="900" width="27" height="16"/><text class="t" x="964" y="908" font-size="7">C4050</text>
<rect class="b" x="953" y="918" width="10" height="20"/>
<path class="b" d="M965,918 L993,918 L995,922 L995,938 L993,942 L965,942 Z"/><text class="t" x="981" y="930" font-size="9">U7011</text>
<circle class="p" cx="966" cy="925" r="2.5"/>
<rect class="b" x="953" y="940" width="10" height="20"/>
<circle class="c" cx="973" cy="955" r="8"/><circle class="c" cx="990" cy="955" r="8"/><circle class="c" cx="968" cy="972" r="8"/><circle class="c" cx="987" cy="972" r="8"/>
<rect class="b" x="880" y="930" width="19" height="35"/><text class="t" transform="translate(889 947) rotate(-90)" font-size="9">L4000</text>
<rect class="b" x="869" y="933" width="11" height="27"/><text class="t" transform="translate(874 946) rotate(-90)" font-size="6">C4002</text>
<rect class="g" x="870" y="962" width="22" height="12"/><text class="t" x="881" y="968" font-size="6">C4072</text>
<rect class="b" x="904" y="958" width="12" height="25"/><rect class="b" x="916" y="958" width="12" height="25"/>
<rect class="b" x="929" y="958" width="27" height="17"/><text class="t" x="942" y="966" font-size="7">C4014</text>
<rect class="b" x="1005" y="910" width="12" height="8"/><rect class="b" x="1005" y="920" width="12" height="9"/><rect class="g" x="1005" y="930" width="12" height="9"/>
<rect class="b" x="1017" y="903" width="54" height="34"/><text class="t" x="1041" y="920" font-size="7">ANT7005</text>
<rect class="b" x="1074" y="903" width="54" height="34"/><text class="t" x="1097" y="920" font-size="7">ANT7008</text>
<rect class="b" x="1130" y="903" width="48" height="34"/><text class="t" x="1150" y="920" font-size="7">ANT7020</text>
<rect class="b" x="1060" y="938" width="12" height="8"/><rect class="b" x="1073" y="938" width="16" height="10"/><rect class="g" x="1089" y="938" width="16" height="10"/><rect class="b" x="1105" y="938" width="16" height="10"/>
<rect class="b" x="1004" y="943" width="14" height="8"/><rect class="b" x="1004" y="952" width="14" height="8"/><rect class="b" x="1004" y="961" width="14" height="8"/>
<rect class="b" x="1021" y="943" width="45" height="35"/><text class="t" x="1042" y="960" font-size="7">ANT7007</text>
<rect class="b" x="1080" y="943" width="48" height="35"/><text class="t" x="1103" y="960" font-size="7">ANT7016</text>
<rect class="b" x="1142" y="880" width="15" height="8"/>
</svg>
</body></html>
